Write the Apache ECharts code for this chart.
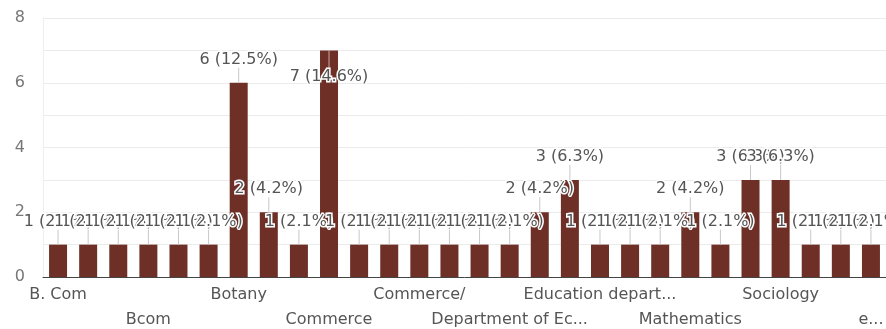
<!DOCTYPE html>
<html>
<head>
<meta charset="utf-8">
<script src="https://cdn.jsdelivr.net/npm/echarts@6/dist/echarts.min.js"></script>
<style>
  html, body { margin: 0; padding: 0; background: #fff; }
  #chart { width: 886px; height: 329px; }
</style>
</head>
<body>
<div id="chart"></div>
<script>
// answers per department (only every third name is printed on the axis)
const categories = [
  'B. Com', 'B.Com', 'BCOM', 'Bcom', 'Bio', 'Biology', 'Botany', 'Chemistry',
  'Com', 'Commerce', 'Commerce ', 'Commerce Dept', 'Commerce/', 'Computer Science',
  'Department of Commerce', 'Department of Economics', 'Economics', 'Education',
  'Education department', 'English', 'History', 'Mathematics', 'Physics',
  'Political Science', 'Sociology', 'Statistics', 'Zoology', 'e...'
];
const counts = [1, 1, 1, 1, 1, 1, 6, 2, 1, 7, 1, 1, 1, 1, 1, 1, 2, 3, 1, 1, 1, 2, 1, 3, 3, 1, 1, 1];
const yTicks = [0, 2, 4, 6, 8];

const total = counts.reduce((a, b) => a + b, 0);
const FONT = 'DejaVu Sans';
const BAR = '#6e3026';

// long names get cut like the form summary does
const shorten = s => (s.length > 17 ? s.slice(0, 16) + '...' : s);

const chart = echarts.init(document.getElementById('chart'));

chart.setOption({
  animation: false,
  grid: { left: 43, right: 0, top: 18, bottom: 52, containLabel: false, outerBoundsMode: 'none' },
  xAxis: {
    type: 'category',
    data: categories,
    axisLine: { lineStyle: { color: '#444', width: 1 } },
    axisTick: { show: false },
    axisLabel: {
      interval: 2,
      showMinLabel: true,
      showMaxLabel: true,
      margin: 5,
      color: '#555',
      fontFamily: FONT,
      fontSize: 16,
      lineHeight: 25,
      // alternate the printed names on two rows
      formatter: (value, index) => ((index / 3) % 2 === 1 ? '\n' : '') + shorten(value)
    }
  },
  yAxis: {
    type: 'value',
    min: 0,
    max: 8,
    interval: 1,
    axisLine: { show: true, lineStyle: { color: '#eeeeee' } },
    axisTick: { show: false },
    splitLine: { lineStyle: { color: '#ebebeb' } },
    axisLabel: {
      margin: 18,
      color: '#777',
      fontFamily: FONT,
      fontSize: 16,
      formatter: v => (yTicks.includes(v) ? String(v) : '')
    }
  },
  series: [
    {
      type: 'bar',
      data: counts,
      barWidth: 18,
      itemStyle: { color: BAR }
    },
    {
      // value labels with a short leader line
      type: 'custom',
      data: counts.map((v, i) => [i, v]),
      z: 5,
      renderItem: (params, api) => {
        const i = api.value(0);
        const v = api.value(1);
        const top = api.coord([i, v]);
        const inside = v >= 7;
        const ty = inside ? top[1] + 26 : top[1] - 23;
        const pct = (v / total * 100).toFixed(1);
        return {
          type: 'group',
          children: [
            {
              type: 'line',
              shape: { x1: top[0], y1: top[1], x2: top[0], y2: inside ? ty - 8 : ty + 8 },
              style: { stroke: inside ? '#c9a9a3' : '#c8c8c8', lineWidth: 1 }
            },
            {
              type: 'text',
              x: top[0],
              y: ty,
              style: {
                text: v + ' (' + pct + '%)',
                fill: '#555',
                font: '16px "' + FONT + '"',
                align: 'center',
                verticalAlign: 'middle',
                stroke: '#fff',
                lineWidth: 3
              }
            }
          ]
        };
      }
    }
  ]
});
</script>
</body>
</html>
